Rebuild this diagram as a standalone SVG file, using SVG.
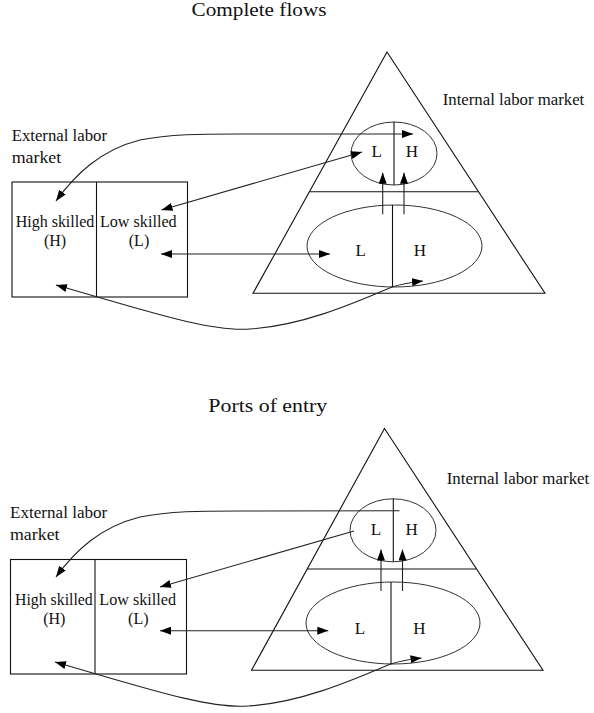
<svg xmlns="http://www.w3.org/2000/svg" width="594" height="713" viewBox="0 0 594 713">
<defs>
<marker id="ah" viewBox="0 0 11 8" refX="11" refY="4" markerWidth="11" markerHeight="8" markerUnits="userSpaceOnUse" orient="auto-start-reverse">
<path d="M0,0 L11,4 L0,8 Z" fill="#000"/>
</marker>
<style>
.s{fill:none;stroke:#111;stroke-width:1.1}
.e{fill:none;stroke:#333;stroke-width:1}
.c{fill:none;stroke:#222;stroke-width:1.1}
.t{font-family:"Liberation Serif","Times New Roman",serif;font-size:17px;fill:#111}
.b{font-family:"Liberation Serif","Times New Roman",serif;font-size:16px;fill:#111;text-anchor:middle}
.h{font-family:"Liberation Serif","Times New Roman",serif;font-size:18px;fill:#111;text-anchor:middle}
.m{font-family:"Liberation Serif","Times New Roman",serif;font-size:17px;fill:#111;text-anchor:middle}
</style>
</defs>
<rect width="594" height="713" fill="#fff"/>

<!-- ===== Top diagram: Complete flows ===== -->
<text class="h" x="259" y="16" textLength="135" lengthAdjust="spacingAndGlyphs">Complete flows</text>

<g id="external1">
<text class="t" x="11.7" y="140.7" textLength="95.3" lengthAdjust="spacingAndGlyphs">External labor</text>
<text class="t" x="11.7" y="162.7" textLength="49.5" lengthAdjust="spacingAndGlyphs">market</text>
<rect class="s" x="12" y="182" width="175.5" height="115"/>
<line class="s" x1="96.5" y1="182" x2="96.5" y2="297"/>
<text class="b" x="55" y="227" textLength="78.6" lengthAdjust="spacingAndGlyphs">High skilled</text>
<text class="b" x="55" y="246">(H)</text>
<text class="b" x="138.3" y="227" textLength="76.7" lengthAdjust="spacingAndGlyphs">Low skilled</text>
<text class="b" x="139" y="246">(L)</text>
</g>

<g id="internal1">
<polygon class="s" points="387,52 253,293.3 545,293.3"/>
<line class="s" x1="309.4" y1="191.7" x2="478.5" y2="191.7"/>
<text class="t" x="442.7" y="105" textLength="141.6" lengthAdjust="spacingAndGlyphs">Internal labor market</text>
</g>

<g id="upper1">
<ellipse class="e" cx="394" cy="153.5" rx="43" ry="31.5"/>
<line class="s" x1="394" y1="122" x2="394" y2="185"/>
<text class="m" x="376.7" y="157">L</text>
<text class="m" x="412" y="157">H</text>
</g>

<g id="lower1">
<ellipse class="e" cx="394.5" cy="246" rx="87.5" ry="41"/>
<line class="s" x1="392.5" y1="205" x2="392.5" y2="287"/>
<text class="m" x="360.7" y="256">L</text>
<text class="m" x="420" y="256">H</text>
</g>

<g id="connectors1">
<path class="c" d="M56,201 C75,175 100,150 140,140 C170,134 200,134 240,134 L413,134" marker-start="url(#ah)" marker-end="url(#ah)"/>
<line class="c" x1="161.5" y1="210" x2="362" y2="152" marker-start="url(#ah)" marker-end="url(#ah)"/>
<line class="c" x1="161" y1="254" x2="330" y2="254" marker-start="url(#ah)" marker-end="url(#ah)"/>
<path class="c" d="M56,285 C150,312 210,332 250,329 C300,326 350,305 392,287 Q405,283 423,281" marker-start="url(#ah)" marker-end="url(#ah)"/>
<line class="c" x1="382.7" y1="214.3" x2="382.7" y2="172.7" marker-end="url(#ah)"/>
<line class="c" x1="404" y1="214.3" x2="404" y2="172.7" marker-end="url(#ah)"/>
</g>

<!-- ===== Bottom diagram: Ports of entry ===== -->
<text class="h" x="267.8" y="411.7" textLength="119" lengthAdjust="spacingAndGlyphs">Ports of entry</text>

<g id="external2">
<text class="t" x="10" y="518.3" textLength="97.3" lengthAdjust="spacingAndGlyphs">External labor</text>
<text class="t" x="10" y="540" textLength="49.5" lengthAdjust="spacingAndGlyphs">market</text>
<rect class="s" x="10.5" y="559.5" width="176" height="114.5"/>
<line class="s" x1="95" y1="559.5" x2="95" y2="674"/>
<text class="b" x="53.9" y="605" textLength="77.7" lengthAdjust="spacingAndGlyphs">High skilled</text>
<text class="b" x="54.3" y="624">(H)</text>
<text class="b" x="137.7" y="605" textLength="76.7" lengthAdjust="spacingAndGlyphs">Low skilled</text>
<text class="b" x="138.3" y="624">(L)</text>
</g>

<g id="internal2">
<polygon class="s" points="384.5,428.5 251.5,670.3 543,670.3"/>
<line class="s" x1="307.2" y1="569" x2="476.6" y2="569"/>
<text class="t" x="446.7" y="484" textLength="142.6" lengthAdjust="spacingAndGlyphs">Internal labor market</text>
</g>

<g id="upper2">
<ellipse class="e" cx="393" cy="530.3" rx="43" ry="31.5"/>
<line class="s" x1="393.3" y1="498.8" x2="393.3" y2="561.8"/>
<text class="m" x="376" y="535">L</text>
<text class="m" x="411.7" y="535">H</text>
</g>

<g id="lower2">
<ellipse class="e" cx="393" cy="623" rx="87" ry="41"/>
<line class="s" x1="391" y1="582" x2="391" y2="664"/>
<text class="m" x="360" y="634">L</text>
<text class="m" x="419.3" y="634">H</text>
</g>

<g id="connectors2">
<path class="c" d="M56,577 C75,551 100,527 140,517 C170,511 200,511 240,511 L399.5,510.7" marker-start="url(#ah)"/>
<line class="c" x1="354" y1="531" x2="160" y2="587" marker-end="url(#ah)"/>
<line class="c" x1="160" y1="630.7" x2="328.3" y2="630.7" marker-start="url(#ah)" marker-end="url(#ah)"/>
<path class="c" d="M55,662 C148.5,689 208.5,709 248.5,706 C298.5,703 348.5,682 390.5,664 Q403.5,660 421.5,658" marker-start="url(#ah)" marker-end="url(#ah)"/>
<line class="c" x1="381" y1="591" x2="381" y2="549.5" marker-end="url(#ah)"/>
<line class="c" x1="402.5" y1="591" x2="402.5" y2="549.5" marker-end="url(#ah)"/>
</g>
</svg>
